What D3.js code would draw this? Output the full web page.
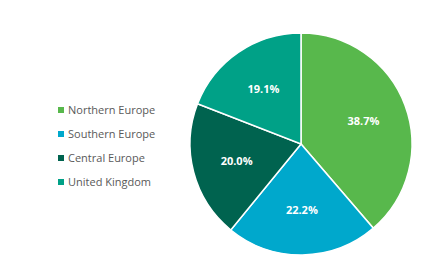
<!DOCTYPE html>
<html><head><meta charset="utf-8">
<script src="https://cdn.jsdelivr.net/npm/d3@7"></script>
<style>body{margin:0;background:#fff}</style>
</head><body>
<svg id="c" width="433" height="265"></svg>
<script>
const categories = ["Northern Europe","Southern Europe","Central Europe","United Kingdom"];
const values = [38.7,22.2,20.0,19.1];
const colors = ["#58b84c","#00a8cc","#00634f","#00a187"];

const svg = d3.select("#c");
const cx = 301, cy = 144, R = 111;
const pie = d3.pie().sort(null).value(d=>d.v);
const data = pie(categories.map((c,i)=>({c, v:values[i], col:colors[i]})));
const arc = d3.arc().innerRadius(0).outerRadius(R);
const labelArc = d3.arc().innerRadius(R*0.6).outerRadius(R*0.6);
const g = svg.append("g").attr("transform",`translate(${cx},${cy})`);
g.selectAll("path").data(data).join("path")
  .attr("d",arc).attr("fill",d=>d.data.col)
  .attr("stroke","#fff").attr("stroke-width",1.5);
g.selectAll("text").data(data).join("text")
  .attr("transform",d=>`translate(${labelArc.centroid(d)})`)
  .attr("text-anchor","middle").attr("dy","0.35em")
  .attr("fill","#fff").attr("font-family","Open Sans, sans-serif")
  .attr("font-size",11).attr("font-weight","bold")
  .text(d=>d.data.v.toFixed(1)+"%");

const y = d3.scalePoint().domain(categories).range([110,182]);
const lg = svg.append("g");
const items = lg.selectAll("g").data(categories).join("g")
  .attr("transform",d=>`translate(58,${y(d)})`);
items.append("rect").attr("x",0).attr("y",-3).attr("width",6).attr("height",6)
  .attr("fill",(d,i)=>colors[i]);
items.append("text").attr("x",10).attr("dy","0.35em")
  .attr("fill","#595959").attr("font-family","Open Sans, sans-serif")
  .attr("font-size",11).text(d=>d);
</script>
</body></html>
